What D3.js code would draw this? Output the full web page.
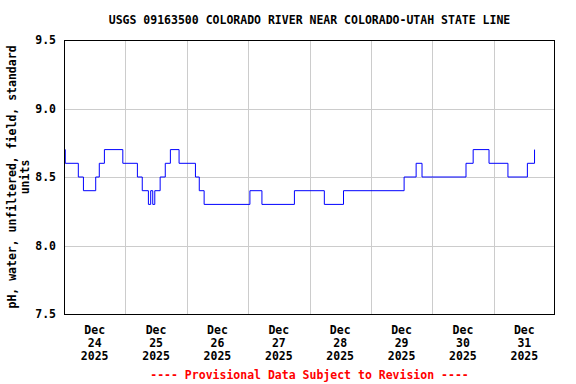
<!DOCTYPE html>
<html>
<head>
<meta charset="utf-8">
<script src="https://cdn.jsdelivr.net/npm/d3@7"></script>
<style>
  body { margin: 0; background: #fff; }
  text { font-family: "DejaVu Sans Mono", monospace; font-weight: bold; font-size: 11.5px; }
</style>
</head>
<body>
<svg id="chart" width="576" height="384"></svg>
<script>
// change points: hours after Dec 24 00:00, pH value
const stepHours = [0, 0.5, 5.6, 7.6, 12.4, 13.8, 15.8, 23.0, 28.7, 30.6, 33.0, 33.9, 34.7, 35.5,
  37.6, 39.6, 41.6, 45.0, 51.4, 52.9, 54.8, 72.7, 77.4, 90.1, 101.8, 109.3, 133.0, 137.7,
  140.0, 157.2, 160.0, 166.2, 173.6, 181.2, 184.0];
const stepValues = [8.7, 8.6, 8.5, 8.4, 8.5, 8.6, 8.7, 8.6, 8.5, 8.4, 8.3, 8.4, 8.3, 8.4,
  8.5, 8.6, 8.7, 8.6, 8.5, 8.4, 8.3, 8.4, 8.3, 8.4, 8.3, 8.4, 8.5, 8.6,
  8.5, 8.6, 8.7, 8.6, 8.5, 8.6, 8.7];
const dayLabels = ["24", "25", "26", "27", "28", "29", "30", "31"];
const yTicks = [7.5, 8.0, 8.5, 9.0, 9.5];

const margin = { top: 40, right: 21, bottom: 70, left: 64 };
const width = 576 - margin.left - margin.right;
const height = 384 - margin.top - margin.bottom;

const start = Date.UTC(2025, 11, 24);
const hour = 3600 * 1000;
const data = stepHours.map((h, i) => ({ t: new Date(start + h * hour), v: stepValues[i] }));

const svg = d3.select("#chart");
const g = svg.append("g").attr("transform", `translate(${margin.left},${margin.top})`);

const x = d3.scaleUtc()
  .domain([new Date(start), new Date(start + 8 * 24 * hour)])
  .range([0, width]);
const y = d3.scaleLinear().domain([7.5, 9.5]).range([height, 0]);

// grid
g.append("g")
  .selectAll("line")
  .data(d3.utcDay.range(new Date(start + 24 * hour), new Date(start + 8 * 24 * hour)))
  .enter().append("line")
  .attr("x1", d => Math.round(x(d)) + 0.5).attr("x2", d => Math.round(x(d)) + 0.5)
  .attr("y1", 0).attr("y2", height)
  .attr("stroke", "#cccccc");

g.append("g")
  .selectAll("line")
  .data(yTicks.slice(1, -1))
  .enter().append("line")
  .attr("x1", 0).attr("x2", width)
  .attr("y1", d => Math.round(y(d)) + 0.5).attr("y2", d => Math.round(y(d)) + 0.5)
  .attr("stroke", "#cccccc");

// y axis
const yAxis = g.append("g")
  .call(d3.axisLeft(y).tickValues(yTicks).tickFormat(d3.format(".1f")).tickSize(0).tickPadding(8));
yAxis.select(".domain").remove();
yAxis.selectAll("text").attr("fill", "#000").style("font-size", "11.5px");

// x axis labels at noon
const noons = dayLabels.map((d, i) => new Date(start + (i * 24 + 12) * hour));
const xl = g.append("g").attr("transform", `translate(0,${height})`);
noons.forEach((d, i) => {
  const t = xl.append("text")
    .attr("x", x(d)).attr("y", 20)
    .attr("text-anchor", "middle").attr("fill", "#000");
  t.append("tspan").attr("x", x(d)).attr("dy", 0).text("Dec");
  t.append("tspan").attr("x", x(d)).attr("dy", 13).text(dayLabels[i]);
  t.append("tspan").attr("x", x(d)).attr("dy", 13).text("2025");
});

// line
const line = d3.line()
  .x(d => x(d.t))
  .y(d => y(d.v))
  .curve(d3.curveStepAfter);
g.append("path")
  .datum(data)
  .attr("fill", "none")
  .attr("stroke", "#0000ff")
  .attr("stroke-width", 1)
  .attr("d", line);

// frame
g.append("rect")
  .attr("x", 0.5).attr("y", 0.5)
  .attr("width", width - 1).attr("height", height)
  .attr("fill", "none").attr("stroke", "#000");

// title
svg.append("text")
  .attr("x", margin.left + width / 2).attr("y", 24)
  .attr("text-anchor", "middle")
  .text("USGS 09163500 COLORADO RIVER NEAR COLORADO-UTAH STATE LINE");

// y label
const yl = svg.append("text")
  .attr("transform", `translate(16,${margin.top + height / 2}) rotate(-90)`)
  .attr("text-anchor", "middle");
yl.append("tspan").attr("x", 0).attr("dy", 0).text("pH, water, unfiltered, field, standard");
yl.append("tspan").attr("x", 0).attr("dy", 13).text("units");

// footer
svg.append("text")
  .attr("x", margin.left + width / 2).attr("y", 379)
  .attr("text-anchor", "middle")
  .attr("fill", "#ff0000")
  .text("---- Provisional Data Subject to Revision ----");
</script>
</body>
</html>
